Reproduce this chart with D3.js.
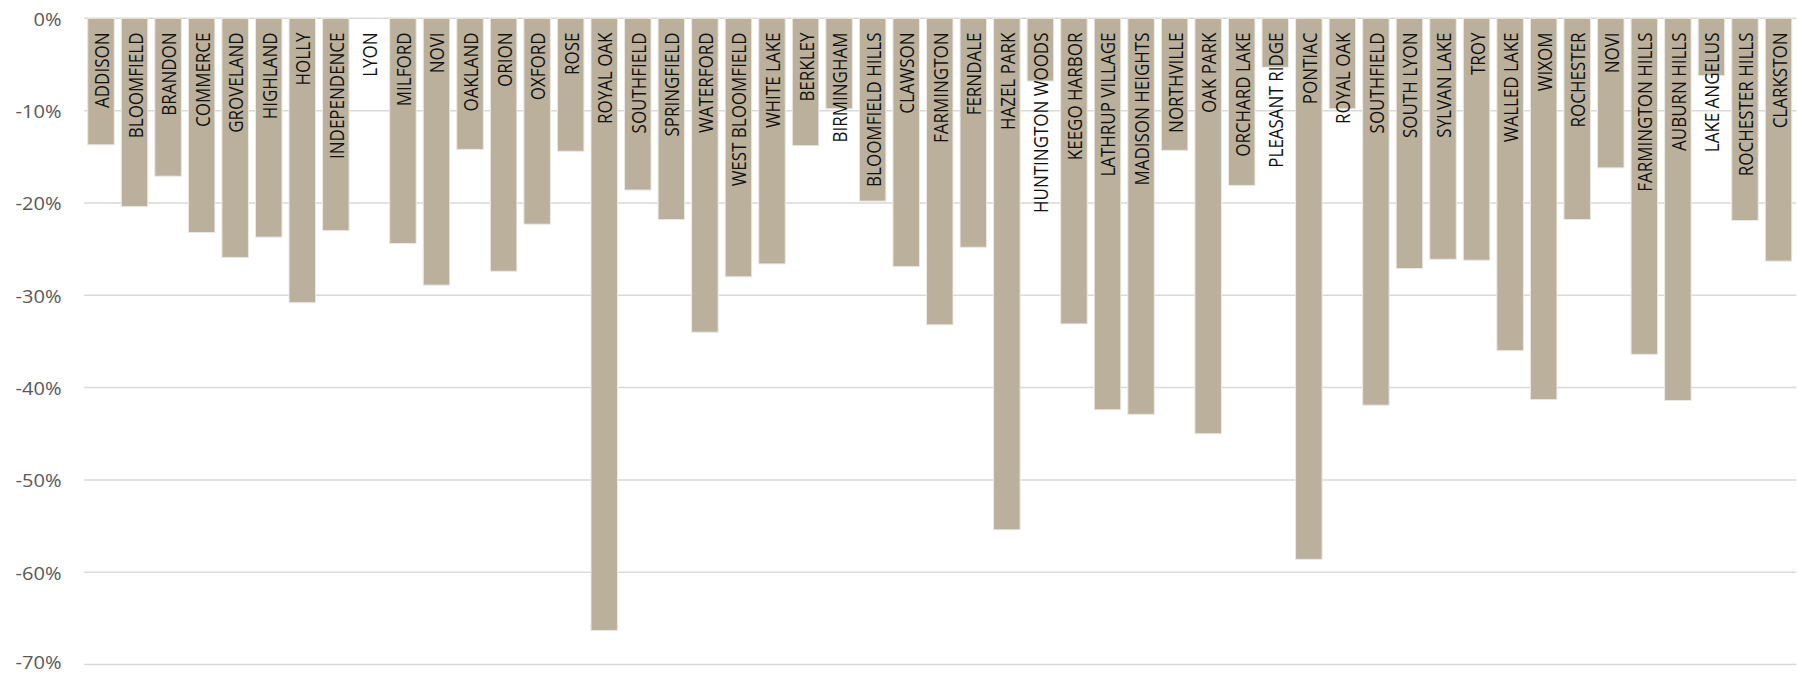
<!DOCTYPE html>
<html>
<head>
<meta charset="utf-8">
<script src="https://cdn.jsdelivr.net/npm/d3@7"></script>
<style>
  html, body { margin: 0; padding: 0; background: #ffffff; }
  svg { display: block; }
</style>
</head>
<body>
<svg id="chart" width="1797" height="674"></svg>
<script>
// Community names, in plotted order (some names repeat)
const communities = [
  "ADDISON", "BLOOMFIELD", "BRANDON", "COMMERCE", "GROVELAND", "HIGHLAND",
  "HOLLY", "INDEPENDENCE", "LYON", "MILFORD", "NOVI", "OAKLAND", "ORION",
  "OXFORD", "ROSE", "ROYAL OAK", "SOUTHFIELD", "SPRINGFIELD", "WATERFORD",
  "WEST BLOOMFIELD", "WHITE LAKE", "BERKLEY", "BIRMINGHAM", "BLOOMFIELD HILLS",
  "CLAWSON", "FARMINGTON", "FERNDALE", "HAZEL PARK", "HUNTINGTON WOODS",
  "KEEGO HARBOR", "LATHRUP VILLAGE", "MADISON HEIGHTS", "NORTHVILLE",
  "OAK PARK", "ORCHARD LAKE", "PLEASANT RIDGE", "PONTIAC", "ROYAL OAK",
  "SOUTHFIELD", "SOUTH LYON", "SYLVAN LAKE", "TROY", "WALLED LAKE", "WIXOM",
  "ROCHESTER", "NOVI", "FARMINGTON HILLS", "AUBURN HILLS", "LAKE ANGELUS",
  "ROCHESTER HILLS", "CLARKSTON"
];

// Percent change for each community
const changePct = [
  -13.7, -20.4, -17.1, -23.2, -25.9, -23.7,
  -30.8, -23.0, 0.0, -24.4, -28.9, -14.2, -27.4,
  -22.3, -14.4, -66.3, -18.6, -21.8, -34.0,
  -28.0, -26.6, -13.8, -9.8, -19.8,
  -26.9, -33.2, -24.8, -55.4, -6.8,
  -33.1, -42.4, -42.9, -14.3,
  -45.0, -18.1, -5.3, -58.6, -9.8,
  -41.9, -27.1, -26.1, -26.2, -36.0, -41.3,
  -21.8, -16.2, -36.4, -41.4, -6.2,
  -21.9, -26.3
];

// Y axis ticks
const yTicks = [0, -10, -20, -30, -40, -50, -60, -70];

const svg = d3.select("#chart");
const stretch = 1.146;   // horizontal stretch applied to text glyphs
const tickFont = 17.5;
const height = 674;

const x = d3.scaleBand()
  .domain(d3.range(communities.length))
  .range([84.2, 1795.3])
  .paddingInner(0.21)
  .paddingOuter(0.105);

const y = d3.scaleLinear()
  .domain([-70, 0])
  .range([664.6, 18.3]);

// Horizontal gridlines
svg.append("g")
  .selectAll("line")
  .data(yTicks)
  .join("line")
  .attr("x1", 84.2)
  .attr("x2", 1796)
  .attr("y1", d => y(d))
  .attr("y2", d => y(d))
  .attr("stroke", "#d9d9d9")
  .attr("stroke-width", 1.5);

// Y axis labels: digits centred on their gridline, kept inside the canvas
const labelBaseline = d => Math.min(y(d) + 1 + 0.357 * tickFont, height - 0.3 * tickFont);
svg.append("g")
  .selectAll("text")
  .data(yTicks)
  .join("text")
  .attr("transform", d => `translate(61.5,${labelBaseline(d)}) scale(${stretch},1)`)
  .attr("text-anchor", "end")
  .attr("font-family", "'Open Sans', sans-serif")
  .attr("font-size", tickFont)
  .attr("fill", "#595959")
  .text(d => d + "%");

// Bars
svg.append("g")
  .selectAll("rect")
  .data(changePct)
  .join("rect")
  .attr("x", (d, i) => x(i))
  .attr("width", x.bandwidth())
  .attr("y", d => y(Math.max(0, d)))
  .attr("height", d => Math.abs(y(d) - y(0)))
  .attr("fill", "#bab09c")
  .attr("stroke", "#ece9e2")
  .attr("stroke-width", 1);

// Community labels, rotated, hanging from the top of each bar
svg.append("g")
  .selectAll("text")
  .data(communities)
  .join("text")
  .attr("transform", (d, i) =>
    `translate(${x(i) + x.bandwidth() / 2},32.5) scale(${stretch},1) rotate(-90)`)
  .attr("text-anchor", "end")
  .attr("dominant-baseline", "central")
  .attr("font-family", "'Open Sans', sans-serif")
  .attr("font-size", 17)
  .attr("fill", "#111111")
  .text(d => d);
</script>
</body>
</html>
